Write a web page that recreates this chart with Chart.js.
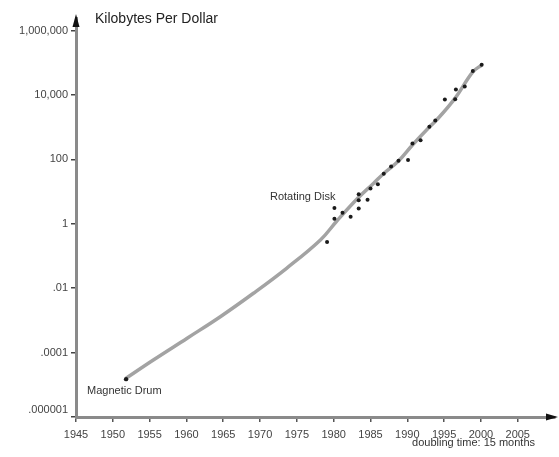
<!DOCTYPE html>
<html>
<head>
<meta charset="utf-8">
<script src="https://cdn.jsdelivr.net/npm/chart.js@4/dist/chart.umd.min.js"></script>
<style>
  html, body { margin: 0; padding: 0; background: #ffffff; }
  #wrap { width: 559px; height: 457px; }
</style>
</head>
<body>
<div id="wrap"><canvas id="c" width="559" height="457"></canvas></div>
<script>
// Storage price history: kilobytes of storage per dollar, by year
const diskYears = [1979.1, 1980.1, 1980.1, 1981.2, 1982.3, 1983.4, 1983.4, 1983.4, 1984.6, 1985.0,
                   1986.0, 1986.8, 1987.8, 1988.8, 1990.1, 1990.7, 1991.8, 1993.0, 1993.8, 1995.1,
                   1996.5, 1996.6, 1997.8, 1998.9, 2000.1];
const diskKBPerDollar = [0.27, 3.1, 1.44, 2.2, 1.64, 8.2, 5.4, 3.0, 5.6, 12.4,
                         16.9, 36, 60, 91, 96, 313, 396, 1030, 1600, 7200,
                         7350, 14800, 18200, 55000, 86000];

const drumYears = [1951.8];
const drumKBPerDollar = [1.5e-5];

// Trend curve (doubling time about 15 months)
const trendYears = [1951.8, 1955.5, 1960.1, 1964.6, 1969.1, 1973.6, 1978.2, 1980.4,
                    1983.3, 1985.4, 1986.8, 1988.8, 1990.7, 1993.0, 1993.9, 1996.5,
                    1998.9, 2000.1];
const trendKBPerDollar = [1.6e-5, 5.9e-5, 2.8e-4, 1.3e-3, 6.95e-3, 0.0415, 0.314, 1.2,
                          6.3, 17.9, 36.5, 89, 280, 1014, 1590, 8000,
                          52000, 85000];

// Axis ticks
const xTickValues = [1945, 1950, 1955, 1960, 1965, 1970, 1975, 1980, 1985, 1990, 1995, 2000, 2005];
const yTickValues = [1e-6, 1e-4, 1e-2, 1, 1e2, 1e4, 1e6];
const yTickLabels = [['.000001', ''], '.0001', '.01', '1', '100', '10,000', '1,000,000'];

const chartTitle = 'Kilobytes Per Dollar';
const xNote = 'doubling time: 15 months';
const diskLabel = 'Rotating Disk';
const drumLabel = 'Magnetic Drum';

const FONT = '"Liberation Sans", Arial, Helvetica, sans-serif';

function pairs(xs, ys) { return xs.map((x, i) => ({ x: x, y: ys[i] })); }

const extras = {
  id: 'extras',
  afterDraw(chart) {
    const ctx = chart.ctx;
    const xs = chart.scales.x, ys = chart.scales.y;
    const ax = xs.left, ay = ys.bottom;
    ctx.save();
    // arrow heads at the axis ends
    ctx.fillStyle = '#111';
    ctx.beginPath();
    ctx.moveTo(ax, ys.top - 4);
    ctx.lineTo(ax - 3.5, ys.top + 9);
    ctx.lineTo(ax + 3.5, ys.top + 9);
    ctx.closePath();
    ctx.fill();
    ctx.beginPath();
    ctx.moveTo(xs.right + 3, ay);
    ctx.lineTo(xs.right - 9, ay - 3.5);
    ctx.lineTo(xs.right - 9, ay + 3.5);
    ctx.closePath();
    ctx.fill();

    // title
    ctx.fillStyle = '#222';
    ctx.font = '14px ' + FONT;
    ctx.textBaseline = 'middle';
    ctx.textAlign = 'left';
    ctx.fillText(chartTitle, 95, 19);

    // notes
    ctx.font = '11px ' + FONT;
    ctx.fillStyle = '#333';
    ctx.textAlign = 'right';
    ctx.fillText(xNote, 535, 443);

    const dx = xs.getPixelForValue(diskYears[1]);
    const dy = ys.getPixelForValue(diskKBPerDollar[1]);
    ctx.fillText(diskLabel, dx + 1, dy - 11);

    const mx = xs.getPixelForValue(drumYears[0]);
    const my = ys.getPixelForValue(drumKBPerDollar[0]);
    ctx.textAlign = 'left';
    ctx.fillText(drumLabel, mx - 39, my + 12);
    ctx.restore();
  }
};

new Chart(document.getElementById('c'), {
  type: 'scatter',
  data: {
    datasets: [
      {
        data: pairs(diskYears, diskKBPerDollar),
        pointRadius: 2,
        pointBackgroundColor: '#1a1a1a',
        pointBorderWidth: 0,
        showLine: false
      },
      {
        data: pairs(drumYears, drumKBPerDollar),
        pointRadius: 2.2,
        pointBackgroundColor: '#1a1a1a',
        pointBorderWidth: 0,
        showLine: false
      },
      {
        type: 'line',
        data: pairs(trendYears, trendKBPerDollar),
        borderColor: '#a3a3a3',
        borderWidth: 3.5,
        pointRadius: 0,
        tension: 0.4,
        fill: false
      }
    ]
  },
  options: {
    responsive: false,
    animation: false,
    devicePixelRatio: 1,
    layout: { padding: { top: 18, right: 4, left: 0, bottom: 0 } },
    plugins: { legend: { display: false }, tooltip: { enabled: false } },
    scales: {
      x: {
        type: 'linear',
        min: 1945,
        max: 2010.06,
        afterBuildTicks(scale) { scale.ticks = xTickValues.map(v => ({ value: v })); },
        afterFit(scale) { scale.height = 40; },
        border: { display: true, color: '#8a8a8a', width: 3 },
        grid: { display: true, drawOnChartArea: false, drawTicks: true, tickLength: 5, color: '#555', lineWidth: 1.5 },
        ticks: {
          color: '#444',
          font: { family: FONT, size: 11 },
          padding: 6,
          maxRotation: 0,
          autoSkip: false,
          callback: v => String(v)
        }
      },
      y: {
        type: 'logarithmic',
        min: 1e-6,
        max: Math.pow(10, 6.39),
        afterBuildTicks(scale) { scale.ticks = yTickValues.map(v => ({ value: v })); },
        afterFit(scale) { scale.width = 76; },
        border: { display: true, color: '#8a8a8a', width: 3 },
        grid: { display: true, drawOnChartArea: false, drawTicks: true, tickLength: 5, color: '#444', lineWidth: 1.5 },
        ticks: {
          color: '#444',
          font: { family: FONT, size: 11 },
          padding: 3,
          autoSkip: false,
          callback: function (v) {
            const i = yTickValues.findIndex(t => Math.abs(Math.log10(t) - Math.log10(v)) < 1e-6);
            return i >= 0 ? yTickLabels[i] : '';
          }
        }
      }
    }
  },
  plugins: [extras]
});
</script>
</body>
</html>
